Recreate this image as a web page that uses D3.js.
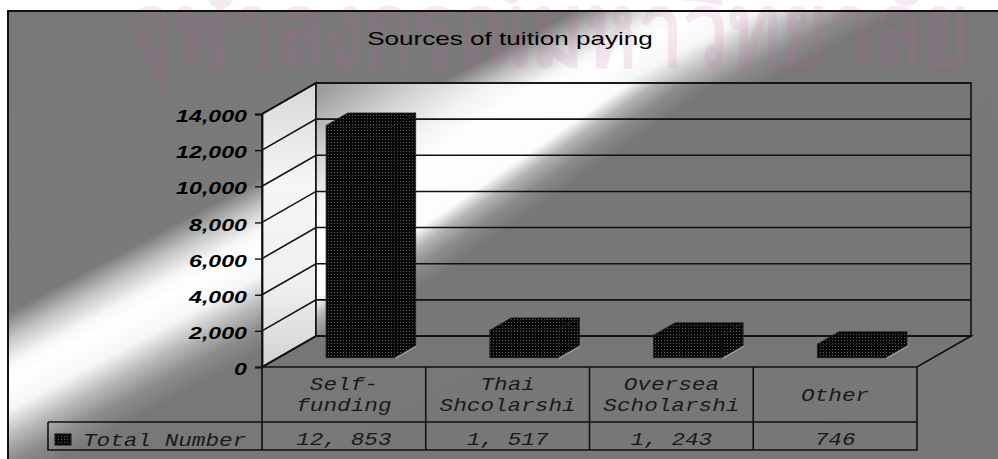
<!DOCTYPE html>
<html>
<head>
<meta charset="utf-8">
<script src="https://cdn.jsdelivr.net/npm/d3@7"></script>
<style>
  html, body { margin: 0; padding: 0; background: #ffffff; }
  svg { display: block; }
</style>
</head>
<body>
<svg id="chart" width="998" height="459"></svg>
<script>
// ---- data ----
const title = "Sources of tuition paying";
const seriesName = "Total Number";
const categories = ["Self-funding", "Thai Shcolarshi", "Oversea Scholarshi", "Other"];
const categoryLines = [["Self-", "funding"], ["Thai", "Shcolarshi"], ["Oversea", "Scholarshi"], ["Other"]];
const values = [12853, 1517, 1243, 746];
const yTicks = [0, 2000, 4000, 6000, 8000, 10000, 12000, 14000];
const watermark = "จุฬาลงกรณ์มหาวิทยาลัย";

// ---- layout ----
const W = 998, H = 459;
const frontLeft = 262, frontRight = 917, frontBase = 367, frontTop = 114;
const depth = { dx: 54, dy: -31 };          // floor/wall depth
const barDepthStart = 0.3, barDepthEnd = 0.7; // bar placed mid-depth
const barWidthFrac = 0.415;
const stretch = 1.45;                        // horizontal text stretch
const ink = "#111";

const svg = d3.select("#chart");
const defs = svg.append("defs");

// linear light band: centre (cx,cy), unit normal (nx,ny), stops keyed by distance
function bandGradient(id, cx, cy, nx, ny, span, stops) {
  const g = defs.append("linearGradient").attr("id", id)
    .attr("gradientUnits", "userSpaceOnUse")
    .attr("x1", cx - nx * span).attr("y1", cy - ny * span)
    .attr("x2", cx + nx * span).attr("y2", cy + ny * span);
  stops.forEach(([t, c]) => g.append("stop")
    .attr("offset", (t + span) / (2 * span)).attr("stop-color", c));
}
bandGradient("bgGrad", 596, 70, 0.47, 0.883, 500, [
  [-500, "#777"], [-62, "#7a7a7a"], [-38, "#c6c6c6"], [-16, "#f8f8f8"],
  [0, "#ffffff"], [24, "#f6f6f6"], [48, "#bababa"], [70, "#8c8c8c"], [92, "#787878"], [500, "#777"]
]);
bandGradient("wallGrad", 531, 139, 0.568, 0.823, 300, [
  [-300, "#888"], [-160, "#9c9c9c"], [-110, "#d0d0d0"], [-70, "#f2f2f2"],
  [-40, "#ffffff"], [10, "#fcfcfc"], [25, "#b4b4b4"], [42, "#8a8a8a"], [60, "#777"], [300, "#777"]
]);
const sideGrad = defs.append("linearGradient").attr("id", "sideGrad")
  .attr("x1", 0).attr("y1", 0).attr("x2", 0).attr("y2", 1);
[[0, "#d6d6d6"], [0.35, "#f6f6f6"], [0.7, "#f0f0f0"], [1, "#d2d2d2"]]
  .forEach(([o, c]) => sideGrad.append("stop").attr("offset", o).attr("stop-color", c));

// stippled bar fill
const pat = defs.append("pattern").attr("id", "dots")
  .attr("patternUnits", "userSpaceOnUse").attr("width", 3).attr("height", 3);
pat.append("rect").attr("width", 3).attr("height", 3).attr("fill", "#070707");
pat.append("rect").attr("x", 1).attr("y", 1).attr("width", 1).attr("height", 1).attr("fill", "#5e5e5e");

// ---- background frame ----
svg.append("rect").attr("x", 8).attr("y", 11).attr("width", W + 10).attr("height", H + 10)
  .attr("fill", "url(#bgGrad)");

// faint document watermark across the top
svg.append("text").text(watermark)
  .attr("x", 128).attr("y", 66)
  .attr("textLength", 842).attr("lengthAdjust", "spacingAndGlyphs")
  .attr("font-family", "DejaVu Sans, Noto Sans, sans-serif")
  .attr("font-size", 104).attr("font-weight", "bold")
  .attr("fill", "rgb(200,100,160)").attr("fill-opacity", 0.14);

svg.append("rect").attr("x", 8).attr("y", 11).attr("width", W + 10).attr("height", H + 10)
  .attr("fill", "none").attr("stroke", ink).attr("stroke-width", 2);

// ---- title ----
svg.append("text").text(title)
  .attr("transform", `translate(510,45) scale(${stretch},1)`)
  .attr("text-anchor", "middle")
  .attr("font-family", "Liberation Sans, Arial, sans-serif")
  .attr("font-size", 18).attr("fill", "#000");

// ---- scales ----
const y = d3.scaleLinear().domain([0, 14000]).range([frontBase, frontTop]);
const x = d3.scaleBand().domain(categories).range([frontLeft, frontRight]);
const back = (px, py, f = 1) => [px + depth.dx * f, py + depth.dy * f];
const line = d3.line();

// ---- walls and floor ----
const g3 = svg.append("g");
// floor
g3.append("path")
  .attr("d", line([[frontLeft, frontBase], [frontRight, frontBase],
    back(frontRight, frontBase), back(frontLeft, frontBase)]) + "Z")
  .attr("fill", "#767676").attr("stroke", ink).attr("stroke-width", 1.6);
// side wall
g3.append("path")
  .attr("d", line([[frontLeft, frontBase], [frontLeft, y(14000)],
    back(frontLeft, y(14000)), back(frontLeft, frontBase)]) + "Z")
  .attr("fill", "url(#sideGrad)").attr("stroke", ink).attr("stroke-width", 1.6);
// back wall
const bl = back(frontLeft, y(14000)), br = back(frontRight, frontBase);
g3.append("rect")
  .attr("x", bl[0]).attr("y", bl[1])
  .attr("width", br[0] - bl[0]).attr("height", br[1] - bl[1])
  .attr("fill", "url(#wallGrad)").attr("stroke", ink).attr("stroke-width", 1.6);

// gridlines: along side wall then across back wall
yTicks.forEach(v => {
  const p0 = [frontLeft, y(v)], p1 = back(frontLeft, y(v)), p2 = back(frontRight, y(v));
  g3.append("path").attr("d", line([p0, p1, p2]))
    .attr("fill", "none").attr("stroke", ink).attr("stroke-width", 1.6);
});

// ---- value axis ----
const axis = svg.append("g").attr("transform", `translate(${frontLeft},0)`)
  .call(d3.axisLeft(y).tickValues(yTicks).tickFormat(d3.format(",")).tickSize(7).tickPadding(8));
axis.select(".domain").attr("stroke", ink).attr("stroke-width", 1.8);
axis.selectAll(".tick line").attr("stroke", ink).attr("stroke-width", 1.4);
axis.selectAll(".tick text")
  .attr("x", -15 / stretch).attr("dy", "0.48em")
  .attr("transform", `scale(${stretch},1)`)
  .attr("fill", "#000")
  .attr("font-family", "Liberation Sans, Arial, sans-serif")
  .attr("font-size", 16).attr("font-weight", "bold").attr("font-style", "italic");

// ---- 3D columns ----
const bw = x.bandwidth() * barWidthFrac;
const d0 = { dx: depth.dx * barDepthStart, dy: depth.dy * barDepthStart };
const d1 = { dx: depth.dx * (barDepthEnd - barDepthStart), dy: depth.dy * (barDepthEnd - barDepthStart) };
const bars = svg.append("g");
categories.forEach((c, i) => {
  const cx = x(c) + x.bandwidth() / 2 + d0.dx;
  const x0 = cx - bw / 2, x1 = cx + bw / 2;
  const yb = y(0) + d0.dy, yt = y(values[i]) + d0.dy;
  const g = bars.append("g");
  // side face
  g.append("path").attr("d", line([[x1, yb], [x1, yt], [x1 + d1.dx, yt + d1.dy], [x1 + d1.dx, yb + d1.dy]]) + "Z")
    .attr("fill", "url(#dots)").attr("stroke", "#1a1a1a").attr("stroke-width", 0.8);
  // top face
  g.append("path").attr("d", line([[x0, yt], [x0 + d1.dx, yt + d1.dy], [x1 + d1.dx, yt + d1.dy], [x1, yt]]) + "Z")
    .attr("fill", "url(#dots)").attr("stroke", "#1a1a1a").attr("stroke-width", 0.8);
  // front face
  g.append("rect").attr("x", x0).attr("y", yt).attr("width", bw).attr("height", yb - yt)
    .attr("fill", "url(#dots)").attr("stroke", "#1a1a1a").attr("stroke-width", 0.8);
  // soft highlight along the lower side edge
  g.append("path").attr("d", line([[x1 + 1, yb + 1], [x1 + d1.dx + 1, yb + d1.dy + 1]]))
    .attr("stroke", "#a8a8a8").attr("stroke-width", 1).attr("fill", "none");
});

// ---- data table ----
const rowTop = frontBase, rowMid = 422, rowBot = 450, legendLeft = 48;
const table = svg.append("g").attr("fill", "none").attr("stroke", ink).attr("stroke-width", 1.6);
table.append("path").attr("d", line([[frontLeft, rowTop], [frontLeft, rowBot], [frontRight, rowBot], [frontRight, rowTop]]));
table.append("path").attr("d", line([[legendLeft, rowMid], [frontRight, rowMid]]));
table.append("path").attr("d", line([[legendLeft, rowMid], [legendLeft, rowBot], [frontLeft, rowBot]]));
categories.slice(1).forEach(c => {
  table.append("path").attr("d", line([[x(c), rowTop], [x(c), rowBot]]));
});

const tableFont = sel => sel
  .attr("font-family", "Liberation Mono, Courier New, monospace")
  .attr("font-style", "italic").attr("font-size", 18)
  .attr("fill", "#1a1a1a");
const mono = 1.26;

// category names
categories.forEach((c, i) => {
  const lines = categoryLines[i];
  const cx = x(c) + x.bandwidth() / 2;
  const base = lines.length === 1 ? 401 : 390;
  lines.forEach((t, j) => {
    svg.append("text").text(t)
      .attr("transform", `translate(${cx},${base + j * 21}) scale(${mono},1)`)
      .attr("text-anchor", "middle").call(tableFont);
  });
});

// value row
const fmt = v => d3.format(",")(v).replace(/,/g, ", ");
categories.forEach((c, i) => {
  svg.append("text").text(fmt(values[i]))
    .attr("transform", `translate(${x(c) + x.bandwidth() / 2},445) scale(${mono},1)`)
    .attr("text-anchor", "middle").call(tableFont);
});

// legend cell
svg.append("rect").attr("x", 55).attr("y", 434).attr("width", 16).attr("height", 11)
  .attr("fill", "url(#dots)").attr("stroke", ink).attr("stroke-width", 1);
svg.append("text").text(seriesName)
  .attr("transform", `translate(83,446) scale(${mono},1)`)
  .call(tableFont);
</script>
</body>
</html>
